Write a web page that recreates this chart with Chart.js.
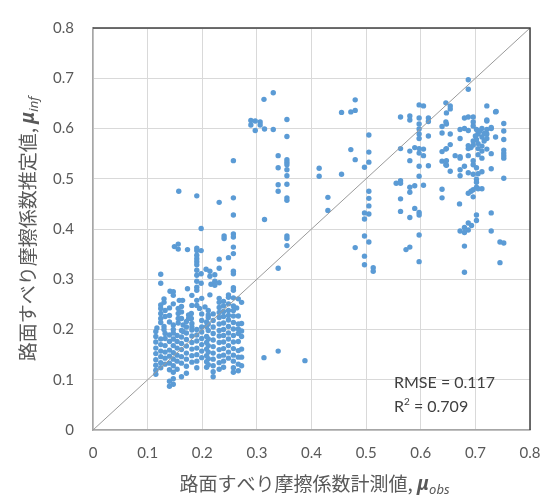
<!DOCTYPE html>
<html>
<head>
<meta charset="utf-8">
<script src="https://cdn.jsdelivr.net/npm/chart.js@4.4.1/dist/chart.umd.min.js"></script>
<style>
html,body{margin:0;padding:0;background:#fff;}
#wrap{width:556px;height:498px;position:relative;}
</style>
</head>
<body>
<div id="wrap"><canvas id="chart"></canvas></div>
<script>
// Axis setup
const axisMin = 0, axisMax = 0.8, axisStep = 0.1;
const xTitleText = '路面すべり摩擦係数計測値, ';
const xTitleSub = 'obs';
const yTitleText = '路面すべり摩擦係数推定値, ';
const yTitleSub = 'inf';
const statLines = [['RMSE = 0.117', ''], ['R', '2', ' = 0.709']];

// Scattered points of the low cluster [obs, inf]
const lowScatter = [
  [0.198,0.401],[0.149,0.365],[0.156,0.370],[0.156,0.360],[0.173,0.359],[0.190,0.362],[0.190,0.357],[0.198,0.357],
  [0.240,0.386],[0.240,0.381],[0.257,0.390],[0.257,0.384],[0.257,0.364],[0.257,0.351],[0.248,0.343],[0.231,0.340],
  [0.231,0.322],[0.257,0.316],[0.257,0.311],
  [0.190,0.348],[0.190,0.341],[0.190,0.335],[0.190,0.329],[0.190,0.318],[0.190,0.308],[0.190,0.296],[0.190,0.284],[0.190,0.278],
  [0.198,0.311],[0.207,0.320],[0.214,0.316],[0.214,0.306],[0.223,0.309],[0.124,0.310],[0.124,0.292],
  [0.198,0.292],[0.216,0.290],[0.223,0.296],[0.231,0.293],[0.223,0.288],[0.173,0.281],[0.141,0.276],[0.147,0.275],[0.147,0.268],
  [0.214,0.269],[0.231,0.262],[0.231,0.254],[0.248,0.269],[0.248,0.264],[0.257,0.283],[0.257,0.278],[0.257,0.263],
  [0.266,0.261],[0.272,0.254],[0.263,0.243],[0.130,0.261],[0.130,0.254],[0.158,0.258],[0.164,0.258],[0.147,0.251],
  [0.124,0.249],[0.124,0.242],[0.124,0.232],[0.124,0.222],[0.124,0.214],
  [0.156,0.242],[0.156,0.232],[0.156,0.222],[0.156,0.213],
  [0.190,0.258],[0.190,0.248],[0.195,0.242],[0.205,0.245],[0.211,0.238],[0.211,0.229],
  [0.175,0.229],[0.180,0.232],[0.175,0.222],[0.180,0.222],
  [0.130,0.206],[0.130,0.200],[0.147,0.209],[0.147,0.200],[0.165,0.209],[0.165,0.196],[0.117,0.203],
  [0.313,0.144],[0.339,0.157],[0.388,0.138]
];

// Dense part of the low cluster, one column per obs value
const lowColumns = [
  [0.115,[0.196,0.186,0.175,0.163,0.152,0.140,0.129,0.119,0.111]],
  [0.124,[0.181,0.170,0.157,0.146,0.134,0.124]],
  [0.132,[0.238,0.226,0.192,0.182,0.168,0.155,0.143,0.131]],
  [0.140,[0.243,0.228,0.215,0.189,0.176,0.159,0.147,0.133,0.120,0.097,0.087]],
  [0.147,[0.193,0.181,0.168,0.154,0.141,0.128,0.115,0.102,0.091]],
  [0.154,[0.188,0.176,0.163,0.149,0.137,0.121]],
  [0.162,[0.246,0.235,0.222,0.198,0.185,0.172,0.160,0.146,0.133,0.106]],
  [0.171,[0.216,0.205,0.193,0.180,0.167,0.153,0.141,0.127,0.113]],
  [0.181,[0.268,0.248,0.212,0.205,0.199,0.187,0.174,0.161,0.148,0.135]],
  [0.190,[0.200,0.189,0.177,0.163,0.150,0.137,0.124]],
  [0.199,[0.262,0.231,0.218,0.205,0.195,0.182,0.170,0.157,0.144]],
  [0.208,[0.215,0.206,0.186,0.174,0.161,0.148,0.136,0.125]],
  [0.211,[0.224,0.211,0.198,0.181,0.168,0.155,0.142,0.130]],
  [0.220,[0.231,0.218,0.205,0.192,0.179,0.166,0.153,0.141,0.128,0.116,0.106]],
  [0.231,[0.244,0.234,0.224,0.211,0.198,0.187,0.174,0.160,0.147,0.134,0.121]],
  [0.239,[0.256,0.247,0.236,0.226,0.213,0.200,0.188,0.175,0.162,0.149,0.137,0.125]],
  [0.248,[0.251,0.238,0.228,0.219,0.206,0.193,0.181,0.168,0.155,0.143]],
  [0.257,[0.247,0.238,0.227,0.214,0.201,0.188,0.175,0.162,0.149,0.137,0.124,0.115]],
  [0.266,[0.227,0.211,0.201,0.192,0.176,0.158,0.145,0.131,0.118]],
  [0.272,[0.212,0.197,0.186,0.161,0.145,0.128]]
];

// Middle points (obs 0.15 - 0.52)
const midPoints = [
  [0.330,0.671],[0.313,0.658],[0.289,0.616],[0.297,0.615],[0.306,0.613],[0.289,0.607],[0.306,0.607],[0.297,0.596],
  [0.314,0.599],[0.330,0.598],[0.355,0.618],[0.355,0.584],[0.339,0.546],[0.355,0.538],[0.355,0.533],[0.355,0.528],
  [0.355,0.518],[0.355,0.506],[0.339,0.522],[0.339,0.488],[0.339,0.475],[0.355,0.489],[0.355,0.462],[0.355,0.457],
  [0.157,0.475],[0.190,0.466],[0.231,0.453],[0.257,0.462],[0.257,0.536],[0.257,0.428],[0.314,0.419],
  [0.339,0.322],[0.355,0.386],[0.355,0.381],[0.355,0.367],
  [0.414,0.521],[0.414,0.505],[0.455,0.509],[0.430,0.463],[0.430,0.437],[0.455,0.632],[0.472,0.633],[0.480,0.636],
  [0.480,0.657],[0.472,0.558],[0.480,0.538],[0.497,0.523],[0.505,0.587],[0.505,0.553],[0.505,0.533],[0.505,0.475],
  [0.505,0.461],[0.505,0.446],[0.497,0.432],[0.505,0.430],[0.497,0.420],[0.497,0.386],[0.505,0.374],[0.480,0.363],
  [0.497,0.346],[0.497,0.329],[0.513,0.323],[0.513,0.316]
];

// High cluster (obs 0.55 - 0.76)
const highPoints = [
  [0.597,0.647],[0.605,0.645],[0.646,0.651],[0.563,0.623],[0.580,0.625],[0.580,0.617],[0.597,0.621],[0.614,0.621],
  [0.614,0.614],[0.597,0.609],[0.597,0.599],[0.597,0.589],[0.597,0.580],[0.614,0.585],[0.639,0.604],[0.639,0.591],
  [0.646,0.613],[0.563,0.560],[0.580,0.555],[0.589,0.562],[0.597,0.560],[0.605,0.559],[0.597,0.551],[0.605,0.546],
  [0.580,0.536],[0.597,0.525],[0.614,0.526],[0.597,0.505],[0.639,0.554],[0.646,0.559],[0.639,0.535],[0.646,0.528],
  [0.555,0.491],[0.563,0.496],[0.563,0.491],[0.580,0.483],[0.589,0.486],[0.580,0.473],[0.605,0.487],[0.639,0.479],
  [0.639,0.462],[0.563,0.460],[0.563,0.435],[0.589,0.441],[0.597,0.433],[0.597,0.428],[0.580,0.423],[0.597,0.388],
  [0.573,0.359],[0.580,0.364],[0.597,0.335],
  [0.687,0.697],[0.687,0.678],[0.647,0.631],[0.654,0.645],[0.654,0.639],[0.721,0.645],[0.737,0.633],
  [0.680,0.621],[0.687,0.623],[0.696,0.623],[0.696,0.613],[0.696,0.605],[0.721,0.615],[0.752,0.610],[0.647,0.609],
  [0.672,0.598],[0.680,0.600],[0.687,0.596],[0.702,0.598],[0.712,0.600],[0.705,0.589],[0.712,0.583],[0.721,0.598],
  [0.729,0.600],[0.702,0.578],[0.696,0.575],[0.752,0.595],[0.752,0.578],[0.737,0.583],[0.654,0.589],[0.672,0.580],
  [0.687,0.566],[0.692,0.562],[0.687,0.560],[0.696,0.567],[0.705,0.560],[0.712,0.555],[0.721,0.559],[0.729,0.550],
  [0.647,0.560],[0.654,0.568],[0.752,0.557],[0.752,0.551],[0.752,0.546],[0.752,0.541],[0.705,0.548],[0.712,0.541],
  [0.663,0.546],[0.672,0.544],[0.672,0.541],[0.687,0.546],[0.696,0.536],[0.696,0.528],[0.702,0.522],[0.647,0.536],
  [0.647,0.527],[0.680,0.525],[0.672,0.518],[0.654,0.515],[0.729,0.520],[0.687,0.512],[0.696,0.509],[0.705,0.510],
  [0.712,0.514],[0.672,0.506],[0.752,0.501],[0.702,0.499],[0.702,0.493],[0.702,0.483],[0.696,0.478],[0.705,0.480],
  [0.712,0.480],[0.687,0.471],[0.692,0.475],[0.696,0.464],[0.671,0.450],[0.702,0.428],[0.729,0.432],[0.702,0.417],
  [0.687,0.412],[0.693,0.407],[0.680,0.403],[0.672,0.396],[0.680,0.393],[0.687,0.398],[0.729,0.396],[0.745,0.374],
  [0.752,0.372],[0.680,0.366],[0.745,0.333],[0.680,0.314],
  [0.721,0.617],[0.729,0.602],[0.721,0.589],[0.721,0.580],[0.738,0.634],[0.705,0.570],[0.712,0.565],[0.716,0.575],
  [0.700,0.585],[0.708,0.595],[0.716,0.590]
];

// 1:1 reference line
const diagX = [0, 0.8];

const toXY = p => ({x:p[0], y:p[1]});
const scatterData = [
  ...lowScatter.map(toXY),
  ...lowColumns.flatMap(c => c[1].map(v => ({x:c[0], y:v}))),
  ...midPoints.map(toXY),
  ...highPoints.map(toXY)
];

const grey = '#595959';

function drawTitle(ctx, main, sub, cx, cy){
  const jp = '19px "Noto Sans CJK JP"';
  const mu = 'italic bold 19px "Noto Sans"';
  const sb = 'italic 13px "Noto Sans"';
  ctx.font = jp; const w1 = ctx.measureText(main).width;
  ctx.font = mu; const w2 = ctx.measureText('μ').width;
  ctx.font = sb; const w3 = ctx.measureText(sub).width;
  let x = cx - (w1 + w2 + w3)/2;
  ctx.textAlign = 'left'; ctx.textBaseline = 'middle'; ctx.fillStyle = grey;
  ctx.font = jp; ctx.fillText(main, x, cy); x += w1;
  ctx.font = mu; ctx.fillText('μ', x, cy + 1); x += w2;
  ctx.font = sb; ctx.fillText(sub, x, cy + 6);
}

const extras = {
  id:'extras',
  afterDraw(chart){
    const {ctx, chartArea:a, scales} = chart;
    ctx.save();
    // frame top/right
    ctx.strokeStyle = '#404040'; ctx.lineWidth = 1.5;
    ctx.beginPath(); ctx.moveTo(a.left, a.top); ctx.lineTo(a.right, a.top); ctx.lineTo(a.right, a.bottom); ctx.stroke();

    // stats box
    const sx = scales.x.getPixelForValue(0.551);
    const rows = [scales.y.getPixelForValue(0.093), scales.y.getPixelForValue(0.047)];
    ctx.fillStyle = '#404040'; ctx.textBaseline = 'middle'; ctx.textAlign = 'left';
    ctx.font = '16px Lato';
    ctx.fillText(statLines[0][0], sx, rows[0]);
    ctx.fillText(statLines[1][0], sx, rows[1]);
    let w = ctx.measureText(statLines[1][0]).width;
    ctx.font = '10px Lato';
    ctx.fillText(statLines[1][1], sx + w, rows[1] - 5);
    w += ctx.measureText(statLines[1][1]).width;
    ctx.font = '16px Lato';
    ctx.fillText(statLines[1][2], sx + w, rows[1]);

    // axis titles
    drawTitle(ctx, xTitleText, xTitleSub, (a.left + a.right)/2 + 3, 484);
    ctx.translate(28, (a.top + a.bottom)/2);
    ctx.rotate(-Math.PI/2);
    drawTitle(ctx, yTitleText, yTitleSub, 0, 0);
    ctx.restore();
  }
};

const tickFmt = v => v === 0 ? '0' : Number(v).toFixed(1);

new Chart(document.getElementById('chart'), {
  data:{
    datasets:[
      {
        type:'line',
        data:diagX.map(v => ({x:v, y:v})),
        borderColor:'#9a9a9a',
        borderWidth:1,
        pointRadius:0,
        order:0
      },
      {
        type:'scatter',
        data:scatterData,
        backgroundColor:'#5B9BD5',
        borderWidth:0,
        pointRadius:2.7,
        order:1
      }
    ]
  },
  options:{
    responsive:true,
    maintainAspectRatio:false,
    animation:false,
    layout:{padding:{top:16, right:26, bottom:0, left:0}},
    plugins:{legend:{display:false}, tooltip:{enabled:false}},
    scales:{
      x:{
        type:'linear', min:axisMin, max:axisMax,
        afterFit(s){ s.height = 68; },
        ticks:{stepSize:axisStep, callback:tickFmt, color:grey, padding:14, font:{family:'Lato', size:15}},
        grid:{color:'#D9D9D9', drawTicks:false},
        border:{color:'#A6A6A6', width:1.5}
      },
      y:{
        type:'linear', min:axisMin, max:axisMax,
        afterFit(s){ s.width = 93; },
        ticks:{stepSize:axisStep, callback:tickFmt, color:grey, padding:19, font:{family:'Lato', size:15}},
        grid:{color:'#D9D9D9', drawTicks:false},
        border:{color:'#A6A6A6', width:1.5}
      }
    }
  },
  plugins:[extras]
});
</script>
</body>
</html>
